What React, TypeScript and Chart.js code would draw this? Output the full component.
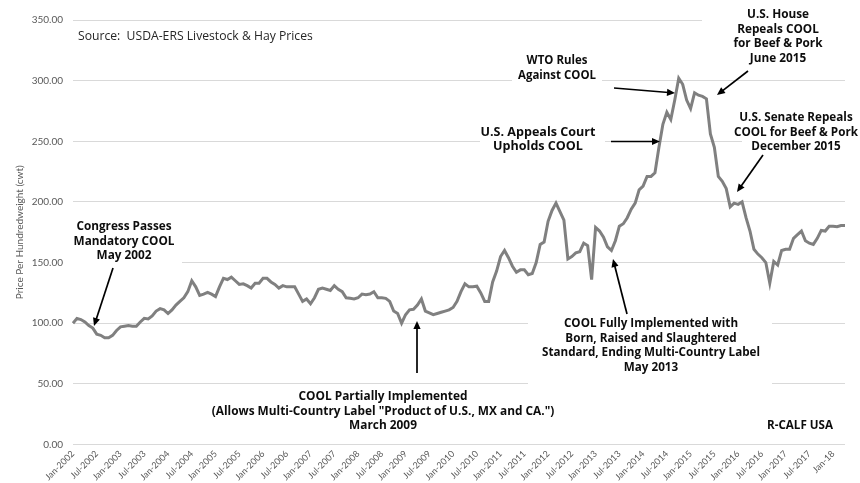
import React, { useEffect, useRef } from "react";
import { Chart, registerables } from "chart.js";

Chart.register(...registerables);

// ---- DATA (monthly price per cwt, Jan 2002 onward) ----
const START_YEAR = 2002;
const MONTH_NAMES = ["Jan", "Feb", "Mar", "Apr", "May", "Jun", "Jul", "Aug", "Sep", "Oct", "Nov", "Dec"];

const P2002 = [100, 104, 103, 101, 98, 96, 91, 90, 88, 88, 90, 94];
const P2003 = [97, 97.5, 98, 97.5, 97.5, 101, 104, 103.5, 106, 110, 112, 111];
const P2004 = [108, 111, 115, 118, 121, 126, 135, 130, 123, 124, 125.5, 124];
const P2005 = [122, 130, 137, 136, 138, 135, 132, 132.5, 131, 129, 133, 133];
const P2006 = [137, 137, 134, 132, 129, 131, 130, 130, 130, 124, 118, 120];
const P2007 = [116, 121, 128, 129, 128, 127, 131, 128, 126, 121, 120.5, 120];
const P2008 = [121, 124, 123.5, 124, 126, 121, 121, 120.5, 118, 110, 108, 100];
const P2009 = [107, 111, 111.5, 115, 120, 110, 108.5, 107, 108, 109, 110, 111];
const P2010 = [113, 118, 126, 132.5, 130, 130, 130.5, 125, 118, 118, 134, 143];
const P2011 = [155, 160, 154, 147, 142, 144, 144, 140, 141, 150, 165, 167];
const P2012 = [184, 193, 199, 192, 185, 153, 155, 158, 159, 166, 164, 136];
const P2013 = [179, 176, 171, 163, 160, 168, 180, 182, 187, 194, 199, 210];
const P2014 = [213, 221, 221, 224, 245, 264, 274, 268, 284, 302, 297, 284];
const P2015 = [277, 290, 288, 287, 285, 256, 245, 221, 217, 211, 196, 199];
const P2016 = [198, 200, 187, 176, 161, 157, 154, 150, 133, 151, 148, 160];
const P2017 = [161, 161, 170, 173, 176, 168, 166, 165, 170, 176.5, 176, 180];
const P2018 = [180, 179.5, 180.5, 180.5];

const TICK_LABELS = [
  "Jan-2002", "Jul-2002", "Jan-2003", "Jul-2003", "Jan-2004", "Jul-2004", "Jan-2005", "Jul-2005",
  "Jan-2006", "Jul-2006", "Jan-2007", "Jul-2007", "Jan-2008", "Jul-2008", "Jan-2009", "Jul-2009",
  "Jan-2010", "Jul-2010", "Jan-2011", "Jul-2011", "Jan-2012", "Jul-2012", "Jan-2013", "Jul-2013",
  "Jan-2014", "Jul-2014", "Jan-2015", "Jul-2015", "Jan-2016", "Jul-2016", "Jan-2017", "Jul-2017",
  "Jan-18",
];

const Y_TITLE = "Price Per Hundredweight (cwt)";
const SOURCE_TEXT = "Source:  USDA-ERS Livestock & Hay Prices";
const CONGRESS_TEXT = ["Congress Passes", "Mandatory COOL", "May 2002"];
const PARTIAL_TEXT = ["COOL Partially Implemented", '(Allows Multi-Country Label "Product of U.S., MX and CA.")', "March 2009"];
const FULL_TEXT = ["COOL Fully Implemented with", "Born, Raised and Slaughtered", "Standard, Ending Multi-Country Label", "May 2013"];
const WTO_TEXT = ["WTO Rules", "Against COOL"];
const APPEALS_TEXT = ["U.S. Appeals Court", "Upholds COOL"];
const HOUSE_TEXT = ["U.S. House", "Repeals COOL", "for Beef & Pork", "June 2015"];
const SENATE_TEXT = ["U.S. Senate Repeals", "COOL for Beef & Pork", "December 2015"];
const RCALF_TEXT = "R-CALF USA";

const PRICES = [
  ...P2002, ...P2003, ...P2004, ...P2005, ...P2006, ...P2007, ...P2008, ...P2009, ...P2010,
  ...P2011, ...P2012, ...P2013, ...P2014, ...P2015, ...P2016, ...P2017, ...P2018,
];
const LABELS = PRICES.map((_, i) => `${MONTH_NAMES[i % 12]}-${START_YEAR + Math.floor(i / 12)}`);

// ---- annotation layout (pixel positions; width = target width of widest line) ----
const FONT = '"Open Sans", Lato, sans-serif';
const TICK_FONT = 'Lato, "Open Sans", sans-serif';
type Note = {
  lines: string[];
  x: number;
  y: number;
  width: number;
  align?: CanvasTextAlign;
  bold?: boolean;
  color?: string;
  box?: [number, number, number, number];
  arrow?: [number, number, number, number];
};
const NOTES: Note[] = [
  { lines: [SOURCE_TEXT], x: 78, y: 37, width: 235, align: "left", bold: false, color: "#262626" },
  { lines: CONGRESS_TEXT, x: 124, y: 227, width: 101, box: [66, 214, 182, 267], arrow: [113, 268, 94, 326] },
  { lines: PARTIAL_TEXT, x: 383, y: 397, width: 343, arrow: [417, 373, 417, 321] },
  { lines: FULL_TEXT, x: 651, y: 324, width: 218, box: [528, 313, 772, 390], arrow: [627, 314, 613, 259] },
  { lines: WTO_TEXT, x: 557, y: 61, width: 78, box: [512, 50, 602, 86], arrow: [614, 88, 675, 93] },
  { lines: APPEALS_TEXT, x: 538, y: 132, width: 115, box: [480, 122, 605, 156], arrow: [611, 141.5, 660, 141.5] },
  { lines: HOUSE_TEXT, x: 778, y: 15, width: 89, box: [702, 4, 856, 67], arrow: [748, 71, 717, 95] },
  { lines: SENATE_TEXT, x: 796, y: 118, width: 124, box: [742, 108, 856, 154], arrow: [763, 155, 737, 192] },
  { lines: [RCALF_TEXT], x: 800, y: 426, width: 66 },
];
const LINE_GAP = 14.5;

function drawArrow(ctx: CanvasRenderingContext2D, x1: number, y1: number, x2: number, y2: number) {
  const ang = Math.atan2(y2 - y1, x2 - x1);
  const head = 8;
  const half = 3.6;
  ctx.save();
  ctx.strokeStyle = "#000";
  ctx.fillStyle = "#000";
  ctx.lineWidth = 1.7;
  ctx.beginPath();
  ctx.moveTo(x1, y1);
  ctx.lineTo(x2 - Math.cos(ang) * head * 0.8, y2 - Math.sin(ang) * head * 0.8);
  ctx.stroke();
  ctx.beginPath();
  ctx.moveTo(x2, y2);
  ctx.lineTo(x2 - Math.cos(ang) * head + Math.sin(ang) * half, y2 - Math.sin(ang) * head - Math.cos(ang) * half);
  ctx.lineTo(x2 - Math.cos(ang) * head - Math.sin(ang) * half, y2 - Math.sin(ang) * head + Math.cos(ang) * half);
  ctx.closePath();
  ctx.fill();
  ctx.restore();
}

const notesPlugin = {
  id: "notes",
  beforeDatasetsDraw(chart: any) {
    const ctx = chart.ctx as CanvasRenderingContext2D;
    ctx.save();
    ctx.fillStyle = "#ffffff";
    NOTES.forEach((n) => {
      if (n.box) {
        const [x1, y1, x2, y2] = n.box;
        ctx.fillRect(x1, y1, x2 - x1, y2 - y1);
      }
    });
    ctx.restore();
  },
  afterDatasetsDraw(chart: any) {
    const ctx = chart.ctx as CanvasRenderingContext2D;
    ctx.save();
    NOTES.forEach((n) => {
      const weight = n.bold === false ? "normal" : "bold";
      ctx.font = `${weight} 12px ${FONT}`;
      const widest = Math.max(...n.lines.map((l) => ctx.measureText(l).width));
      const size = Math.min(13, (12 * n.width) / widest);
      ctx.font = `${weight} ${size.toFixed(2)}px ${FONT}`;
      ctx.fillStyle = n.color || "#0d0d0d";
      ctx.textAlign = n.align || "center";
      ctx.textBaseline = "middle";
      n.lines.forEach((line, i) => ctx.fillText(line, n.x, n.y + i * LINE_GAP));
      if (n.arrow) drawArrow(ctx, n.arrow[0], n.arrow[1], n.arrow[2], n.arrow[3]);
    });
    ctx.restore();
  },
};

export default function App() {
  const ref = useRef<HTMLCanvasElement | null>(null);
  useEffect(() => {
    if (!ref.current) return;
    const chart = new Chart(ref.current, {
      type: "line",
      data: {
        labels: LABELS,
        datasets: [
          {
            data: PRICES,
            borderColor: "#808080",
            borderWidth: 3,
            pointRadius: 0,
            tension: 0,
            fill: false,
          },
        ],
      },
      options: {
        responsive: false,
        animation: false,
        layout: { padding: { top: 20, right: 15, left: 0, bottom: 0 } },
        plugins: { legend: { display: false }, tooltip: { enabled: false } },
        scales: {
          x: {
            type: "category",
            offset: false,
            grid: { display: false, drawTicks: false },
            border: { display: false },
            ticks: {
              autoSkip: false,
              minRotation: 45,
              maxRotation: 45,
              padding: 4,
              color: "#595959",
              font: { family: TICK_FONT, size: 9 },
              callback: (_v: any, i: number) => (i % 6 === 0 ? TICK_LABELS[i / 6] ?? "" : ""),
            },
            afterFit: (s: any) => {
              s.height = 38.5;
            },
          },
          y: {
            min: 0,
            max: 350,
            grid: { color: "#d9d9d9", lineWidth: 1, drawTicks: false },
            border: { display: false },
            ticks: {
              stepSize: 50,
              padding: 10,
              color: "#595959",
              font: { family: TICK_FONT, size: 10 },
              callback: (v: any) => Number(v).toFixed(2),
            },
            title: {
              display: true,
              text: Y_TITLE,
              color: "#595959",
              font: { family: TICK_FONT, size: 10 },
              padding: { top: 14, bottom: 0 },
            },
            afterFit: (s: any) => {
              s.width = 73;
            },
          },
        },
      },
      plugins: [notesPlugin],
    });
    return () => chart.destroy();
  }, []);
  return (
    <div style={{ position: "fixed", left: 0, top: 0, width: 860, height: 483, background: "#fff" }}>
      <canvas ref={ref} width={860} height={483} style={{ display: "block" }} />
    </div>
  );
}
